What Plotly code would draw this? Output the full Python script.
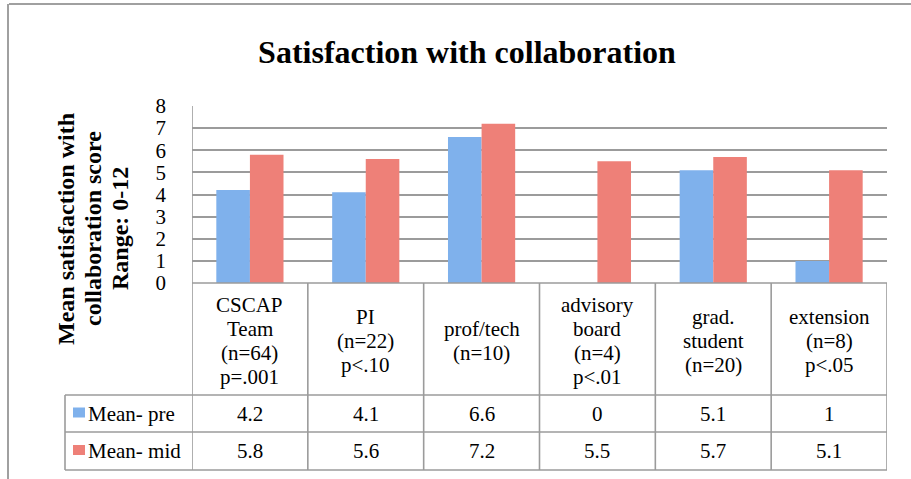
import plotly.graph_objects as go

# ---- data ----
categories = ["CSCAP Team", "PI", "prof/tech", "advisory board", "grad. student", "extension"]
header_labels = [
    ["CSCAP", "Team", "(n=64)", "p=.001"],
    ["PI", "(n=22)", "p<.10"],
    ["prof/tech", "(n=10)"],
    ["advisory", "board", "(n=4)", "p<.01"],
    ["grad.", "student", "(n=20)"],
    ["extension", "(n=8)", "p<.05"],
]
series_names = ["Mean- pre", "Mean- mid"]
mean_pre = [4.2, 4.1, 6.6, 0, 5.1, 1]
mean_mid = [5.8, 5.6, 7.2, 5.5, 5.7, 5.1]
y_ticks = [0, 1, 2, 3, 4, 5, 6, 7, 8]

title_text = "Satisfaction with collaboration"
y_title_lines = ["Mean satisfaction with", "collaboration score", "Range: 0-12"]

# ---- styling / layout constants ----
W, H = 911, 479
L, R, T, B = 192, 887, 106, 283
PW, PH = R - L, B - T
FONT = "Liberation Serif"
GRID = "#9b9b9b"
BLUE = "#7fb1ec"
RED = "#ee8078"


def px_x(px):
    return (px - L) / PW


def px_y(py):
    return (B - py) / PH


fig = go.Figure()
series_vals = [mean_pre, mean_mid]
colors = [BLUE, RED]
for name, vals, c in zip(series_names, series_vals, colors):
    fig.add_trace(go.Bar(x=categories, y=vals, name=name, marker=dict(color=c, line=dict(width=0)),
                         showlegend=False, hoverinfo="x+y+name"))

shapes = []
line_style = dict(color=GRID, width=1.6)

# table geometry (pixel rows)
row_top, row_hdr, row_1, row_2 = 283, 395, 432, 470
label_left = 65

shapes.append(dict(type="line", xref="paper", yref="paper", x0=0, x1=1, y0=px_y(row_top), y1=px_y(row_top), line=line_style))
for ry in (row_hdr, row_1, row_2):
    shapes.append(dict(type="line", xref="paper", yref="paper", x0=px_x(label_left), x1=1,
                       y0=px_y(ry), y1=px_y(ry), line=line_style))
n = len(categories)
for i in range(n + 1):
    xb = i - 0.5
    top = 1 if i == 0 else px_y(row_top)
    shapes.append(dict(type="line", xref="x", yref="paper", x0=xb, x1=xb, y0=top, y1=px_y(row_2), line=line_style))
shapes.append(dict(type="line", xref="paper", yref="paper", x0=px_x(label_left), x1=px_x(label_left),
                   y0=px_y(row_hdr), y1=px_y(row_2), line=line_style))

key_rows = [(row_hdr + row_1) / 2, (row_1 + row_2) / 2]
for ky, c in zip(key_rows, colors):
    shapes.append(dict(type="rect", xref="paper", yref="paper", x0=px_x(73), x1=px_x(85),
                       y0=px_y(ky - 1 - 5), y1=px_y(ky - 1 + 5), fillcolor=c, line=dict(width=0)))

frame_style = dict(color="#a0a0a0", width=2)
shapes.append(dict(type="line", xref="paper", yref="paper", x0=px_x(9), x1=px_x(W + 5), y0=px_y(4), y1=px_y(4), line=frame_style))
shapes.append(dict(type="line", xref="paper", yref="paper", x0=px_x(8), x1=px_x(8), y0=px_y(4), y1=px_y(H + 5), line=frame_style))

annotations = []
hdr_center, hdr_step = 341, 24
for i, lines in enumerate(header_labels):
    m = len(lines)
    for k, txt in enumerate(lines):
        yy = hdr_center + (k - (m - 1) / 2) * hdr_step
        annotations.append(dict(x=i, y=px_y(yy), xref="x", yref="paper", text=txt,
                                showarrow=False, xanchor="center", yanchor="middle",
                                font=dict(family=FONT, size=21, color="black")))
for vals, ry in zip(series_vals, key_rows):
    for i, v in enumerate(vals):
        annotations.append(dict(x=i, y=px_y(ry), xref="x", yref="paper", text=f"{v:g}",
                                showarrow=False, xanchor="center", yanchor="middle",
                                font=dict(family=FONT, size=21, color="black")))
for name, ry in zip(series_names, key_rows):
    annotations.append(dict(x=px_x(86), y=px_y(ry), xref="paper", yref="paper", text=name,
                            showarrow=False, xanchor="left", yanchor="middle",
                            font=dict(family=FONT, size=21, color="black")))
for k, txt in enumerate(y_title_lines):
    annotations.append(dict(x=px_x(66 + 27 * k), y=px_y(229), xref="paper", yref="paper", text=txt,
                            showarrow=False, textangle=-90, xanchor="center", yanchor="middle",
                            font=dict(family=FONT, size=24, color="black", weight="bold")))

fig.update_layout(
    width=W, height=H, autosize=False,
    margin=dict(l=L, r=W - R, t=T, b=H - B, pad=0),
    paper_bgcolor="white", plot_bgcolor="white",
    barmode="group", bargap=0.42, bargroupgap=0,
    title=dict(text=title_text, x=467 / W, xref="container", xanchor="center",
               y=1 - 52 / H, yref="container", yanchor="middle",
               font=dict(family=FONT, size=32, color="black", weight="bold")),
    xaxis=dict(range=[-0.5, n - 0.5], showticklabels=False, showgrid=False, zeroline=False,
               showline=False, ticks="", fixedrange=True),
    yaxis=dict(range=[0, 8], tickvals=y_ticks, showgrid=True, gridcolor=GRID, gridwidth=1.6,
               zeroline=False, showline=False, ticks="", ticklabelstandoff=25,
               tickfont=dict(family=FONT, size=21, color="black"), fixedrange=True),
    shapes=shapes,
    annotations=annotations,
)

fig.write_html("out.html", config={"displayModeBar": False},
               post_script="document.body.style.margin='0';document.body.style.overflow='hidden';")
